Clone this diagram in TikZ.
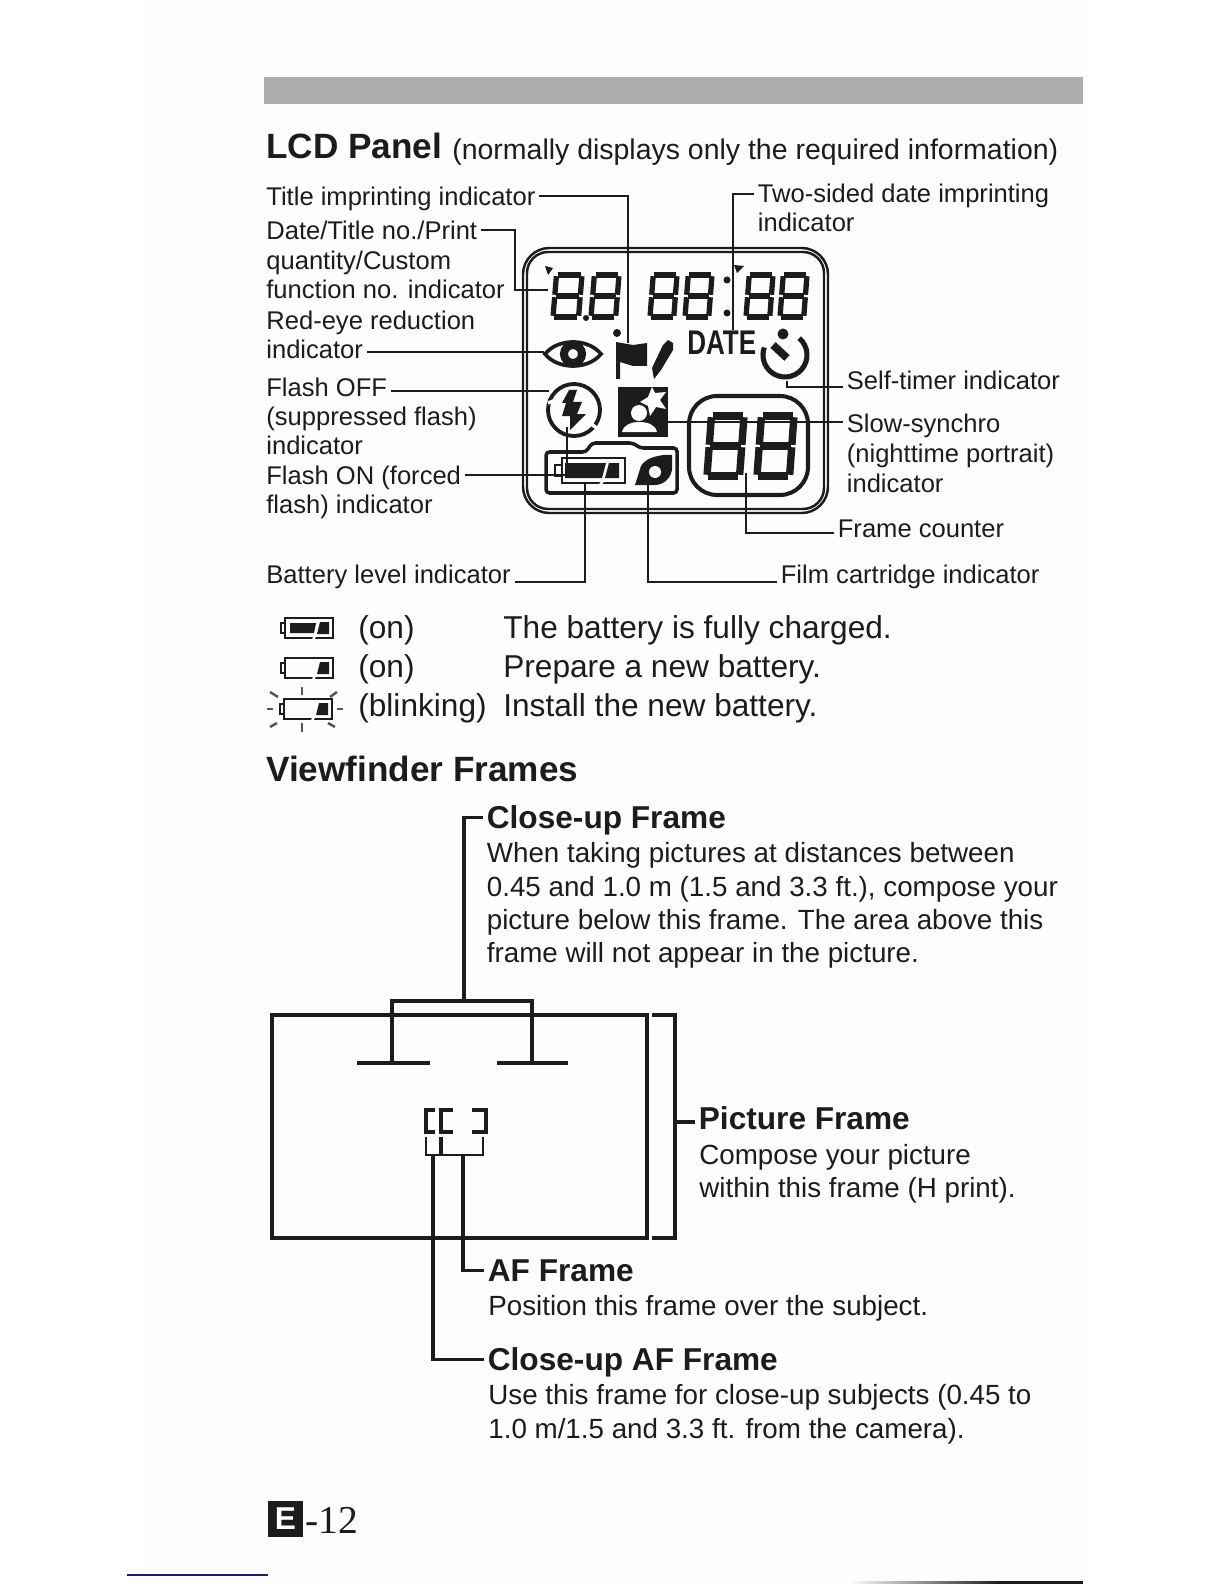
\documentclass[tikz,border=0pt]{standalone}
\usepackage{fontspec}
\setmainfont{Liberation Sans}
\newfontfamily\pagefont{Liberation Serif}
\usepackage{xcolor}
\definecolor{cInk}{HTML}{1C1C1C}
\definecolor{cBar}{HTML}{AEAEAE}
\definecolor{cPage}{HTML}{FDFDFD}
\definecolor{cRule}{HTML}{1A1A8C}
\usetikzlibrary{positioning,calc}
\tikzset{
  lbl/.style={anchor=base west,yshift=-0.5pt,inner xsep=2pt,inner ysep=0pt,text height=14pt,text depth=2.6pt,
    text=cInk,font=\fontsize{14.55}{16}\selectfont},
  txt/.style={anchor=base west,inner sep=0pt,text=cInk,font=\fontsize{15.8}{18}\selectfont},
  tbl/.style={anchor=base west,inner sep=0pt,text=cInk,font=\fontsize{18}{20}\selectfont},
  head/.style={anchor=base west,inner sep=0pt,text=cInk,font=\fontsize{20}{24}\selectfont\bfseries},
  lead/.style={anchor=base west,inner xsep=2pt,inner ysep=0pt,text height=12pt,text depth=0pt,
    text=cInk,font=\fontsize{18}{20}\selectfont\bfseries},
  leader/.style={draw=cInk,line width=1.2pt},
  frame-line/.style={draw=cInk,line width=1.75pt},
  lcd-line/.style={draw=cInk,line width=1.4pt},
  seg/.style={cInk,shorten >=0.7pt,shorten <=0.7pt},
}
% one seven segment digit: line width, left, top, width, height
\newcommand{\lcdeight}[5][3pt]{%
  \begin{scope}[seg,line width=#1]
    \draw (#2+0.12*#4,#3) -- (#2+#4,#3);
    \draw (#2+0.06*#4,#3+0.5*#5) -- (#2+0.94*#4,#3+0.5*#5);
    \draw (#2,#3+#5) -- (#2+0.88*#4,#3+#5);
    \draw (#2+0.12*#4,#3) -- (#2+0.06*#4,#3+0.5*#5);
    \draw (#2+0.06*#4,#3+0.5*#5) -- (#2,#3+#5);
    \draw (#2+#4,#3) -- (#2+0.94*#4,#3+0.5*#5);
    \draw (#2+0.94*#4,#3+0.5*#5) -- (#2+0.88*#4,#3+#5);
  \end{scope}
}
\newcommand{\battery}[3]{%
  \draw[cInk,line width=1.7pt] (#1,#2) rectangle (#1+48,#2+20);
  \draw[cInk,line width=1.5pt,fill=white] (#1-4,#2+5) rectangle (#1,#2+15);
  \fill[cInk] (#1+32,#2+16) -- (#1+35,#2+4) -- (#1+44,#2+4) -- (#1+44,#2+16) -- cycle;
  \ifnum#3=1 \fill[cInk] (#1+5,#2+5) -- (#1+31,#2+5) -- (#1+29,#2+15) -- (#1+5,#2+15) -- cycle;\fi
  \draw[white,line width=1.3pt] (#1+28,#2+21.5) -- (#1+30,#2+18);
}
\begin{document}
\begin{tikzpicture}[x=0.02cm,y=-0.02cm]
  \useasboundingbox (0,0) rectangle (1224,1584);
  \fill[white] (0,0) rectangle (1224,1584);
  \fill[cPage] (142,0) rectangle (1083,1584);
  \fill[cBar] (264,77) rectangle (1083,104);

  % LCD panel heading
  \node[head] (hLcd) at (266,159) {LCD Panel};
  \node[tbl,font=\fontsize{16.2}{20}\selectfont] (hLcdNote) at (452,160) {(normally displays only the required information)};

  % left labels
  \node[lbl] (lblTitle) at (262.5,205) {Title imprinting indicator};
  \node[lbl] (lblDate) at (262.5,239) {Date/Title no./Print};
  \node[lbl] (lblDateB) at (262.5,269) {quantity/Custom};
  \node[lbl] (lblDateC) at (262.5,298) {function no. indicator};
  \node[lbl] (lblRed) at (262.5,329) {Red-eye reduction};
  \node[lbl] (lblRedB) at (262.5,358) {indicator};
  \node[lbl] (lblOff) at (262.5,396) {Flash OFF};
  \node[lbl] (lblOffB) at (262.5,425) {(suppressed flash)};
  \node[lbl] (lblOffC) at (262.5,454) {indicator};
  \node[lbl] (lblOn) at (262.5,484) {Flash ON (forced};
  \node[lbl] (lblOnB) at (262.5,513) {flash) indicator};
  \node[lbl] (lblBat) at (262.5,583) {Battery level indicator};
  % right labels
  \node[lbl] (lblTwo) at (754,202) {Two-sided date imprinting};
  \node[lbl] (lblTwoB) at (754,231) {indicator};
  \node[lbl] (lblSelf) at (843,389) {Self-timer indicator};
  \node[lbl] (lblSlow) at (843,432) {Slow-synchro};
  \node[lbl] (lblSlowB) at (843,462) {(nighttime portrait)};
  \node[lbl] (lblSlowC) at (843,492) {indicator};
  \node[lbl] (lblFrame) at (834,537) {Frame counter};
  \node[lbl] (lblFilm) at (777,583) {Film cartridge indicator};

  % panel
  \draw[lcd-line,rounded corners=15] (523,248) rectangle (828,513);
  \draw[lcd-line,rounded corners=12] (527,252) rectangle (824,509);
  \lcdeight{553}{275}{29}{42}
  \lcdeight{591}{275}{28}{42}
  \lcdeight{650}{275}{27}{42}
  \lcdeight{685}{275}{27}{42}
  \lcdeight{746}{275}{27}{42}
  \lcdeight{780}{275}{27}{42}
  \fill[cInk] (545,266) -- (553,268) -- (548,275) -- cycle;
  \fill[cInk] (734,265) -- (744,266) -- (737,273) -- cycle;
  \fill[cInk] (586,318) circle (3);
  \fill[cInk] (727,280) circle (3.5) (727,313) circle (3.5);
  % eye
  \draw[cInk,line width=2.1pt] (545,354) .. controls (558,338) and (588,338) .. (601,354)
    .. controls (588,370) and (558,370) .. (545,354) -- cycle;
  \draw[cInk,line width=4.6pt] (573,354) circle (9);
  % flag and pencil
  \fill[cInk] (617,333) circle (4);
  \fill[cInk] (616,342) -- (633,345) -- (647,343) -- (647,366) -- (633,366) -- (620,362) -- (620,379) -- (616,379) -- cycle;
  \fill[cInk] (654,379) -- (652,368) -- (663,345) -- (668,340) -- (673,343) -- (673,350) -- (661,370) -- cycle;
  \node[anchor=base west,inner sep=0pt,text=cInk,xscale=0.76,font=\fontsize{19.5}{20}\selectfont\bfseries] (lcdDate) at (687,355) {DATE};
  % self timer
  \draw[cInk,line width=2.9pt] (785,355) ++(-50:22) arc[start angle=-50,end angle=200,radius=22];
  \fill[cInk] (783,334) circle (5.5);
  \draw[cInk,line width=4.4pt] (773,345) -- (787,358);
  % flash
  \draw[cInk,line width=2.2pt] (574,410) circle (26);
  \fill[cInk] (569,390) -- (577,390) -- (573,402) -- (582,402) -- (577,414) -- (586,414) -- (570,430) -- (570,416) -- (562,416) -- (566,403) -- (562,403) -- cycle;
  \draw[white,line width=2pt] (548,403) -- (559,399);
  \draw[white,line width=2pt] (586,421) -- (597,428);
  % slow sync
  \fill[cInk] (618,387) rectangle (668,437);
  \fill[white] (652,387) -- (655,393) -- (666,392) -- (660,400) -- (666,409) -- (656,407) -- (650,416) -- (648,406) -- (640,402) -- (648,397) -- cycle;
  \fill[white] (639,413) circle (8);
  \fill[white] (622,432) .. controls (624,424) and (632,422) .. (639,422) .. controls (647,422) and (655,424) .. (657,432) -- cycle;
  % camera back
  \draw[cInk,line width=2pt,rounded corners=2] (546,452) -- (586,452) -- (592,443) -- (633,443) -- (640,448) -- (677,448) -- (677,493) -- (546,493) -- cycle;
  % battery
  \draw[cInk,line width=1.6pt] (562,458) rectangle (625,483);
  \draw[cInk,line width=1.2pt] (555,465) rectangle (562,476);
  \fill[cInk] (565,463) -- (606,463) -- (602,478) -- (565,478) -- cycle;
  \fill[cInk] (609,463) -- (619,463) -- (619,478) -- (605,478) -- cycle;
  \draw[white,line width=1.4pt] (600,485) -- (603,481);
  % film
  \fill[cInk] (635,485) -- (641,466) .. controls (645,458) and (660,454) .. (672,455) -- (672,470) .. controls (670,480) and (662,485) .. (655,485) -- cycle;
  \fill[white] (655,472) circle (6);
  % counter
  \draw[cInk,line width=2.3pt,rounded corners=16] (689,396) rectangle (808,495);
  \lcdeight[4.2pt]{707}{416}{37}{60}
  \lcdeight[4.2pt]{757}{416}{37}{60}

  \coordinate (cFlag) at (628,343);
  \coordinate (cDateV) at (515,290);
  \coordinate (cDateDig) at (548,290);
  \coordinate (cEye) at (544,352);
  \coordinate (cFlashOff) at (549,391);
  \coordinate (cFlashOn) at (567,427);
  \coordinate (cBatTop) at (585,484);
  \coordinate (cFilm) at (648,485);
  \coordinate (cCount) at (746,473);
  \coordinate (cTimer) at (787,381);
  \coordinate (cSlow) at (668,422);
  \coordinate (cTwo) at (733,330);
  \draw[leader] (lblTitle.east) -| (cFlag);
  \draw[leader] (lblDate.east) -| (cDateV) -- (cDateDig);
  \draw[leader] (lblRedB.east |- cEye) -- (cEye);
  \draw[leader] (lblOff.east |- cFlashOff) -- (cFlashOff);
  \draw[leader] (lblOn.east) -| (cFlashOn);
  \draw[leader] ([yshift=-4.4pt]lblBat.east) -| (cBatTop);
  \draw[leader] ([yshift=-4.4pt]lblFilm.west) -| (cFilm);
  \draw[leader] ([yshift=-2.9pt]lblFrame.west) -| (cCount);
  \draw[leader] ([yshift=-4pt]lblSelf.west) -| (cTimer);
  \draw[leader] (lblSlow.west |- cSlow) -- (cSlow);
  \draw[leader] ([yshift=-0.5pt]lblTwo.west) -| (cTwo);

  % battery table
  \battery{285}{618}{1}
  \battery{285}{658}{0}
  \battery{284}{699}{0}
  \foreach \a/\b/\c/\d in {267/709/273/709, 337/709/343/709, 302/687/302/695, 302/723/302/732, 270/692/278/697, 337/692/330/697, 270/727/277/723, 335/727/328/723}
    \draw[cInk!75,line width=1.4pt] (\a,\b) -- (\c,\d);
  \node[tbl] (tOnA) at (358,638) {(on)};
  \node[tbl] (tOnB) at (358,677) {(on)};
  \node[tbl] (tBlink) at (358,716) {(blinking)};
  \node[tbl] (tFull) at (503,638) {The battery is fully charged.};
  \node[tbl] (tNew) at (503,677) {Prepare a new battery.};
  \node[tbl] (tInstall) at (503,716) {Install the new battery.};

  % viewfinder
  \node[head] (hView) at (266,781) {Viewfinder Frames};
  \node[lead] (lCloseUp) at (483,828) {Close-up Frame};
  \node[txt] (bCloseA) at (486.5,862) {When taking pictures at distances between};
  \node[txt] (bCloseB) at (486.5,896) {0.45 and 1.0 m (1.5 and 3.3 ft.), compose your};
  \node[txt] (bCloseC) at (486.5,929) {picture below this frame. The area above this};
  \node[txt] (bCloseD) at (486.5,962) {frame will not appear in the picture.};
  \node[lead] (lPict) at (695,1129) {Picture Frame};
  \node[txt] (bPictA) at (699,1164) {Compose your picture};
  \node[txt] (bPictB) at (699,1197) {within this frame (H print).};
  \node[lead] (lAf) at (484,1281) {AF Frame};
  \node[txt] (bAf) at (488,1315) {Position this frame over the subject.};
  \node[lead] (lCaf) at (484,1370) {Close-up AF Frame};
  \node[txt] (bCafA) at (488,1404) {Use this frame for close-up subjects (0.45 to};
  \node[txt] (bCafB) at (488,1438) {1.0 m/1.5 and 3.3 ft. from the camera).};

  \draw[frame-line] (272,1015) rectangle (647,1238);
  \draw[frame-line] (357,1063) -- (430,1063);
  \draw[frame-line] (497,1063) -- (568,1063);
  \draw[frame-line] (392,1063) -- (392,1001) -- (532,1001) -- (532,1063);
  \coordinate (cStem) at (464,1001);
  \draw[frame-line] (lCloseUp.west) -| (cStem);
  \draw[frame-line] (652,1015) -- (675,1015) -- (675,1238) -- (652,1238);
  \coordinate (cPict) at (675,1122);
  \draw[frame-line] (cPict) -- (cPict -| lPict.west);
  \draw[frame-line] (435,1110) -- (426,1110) -- (426,1132) -- (435,1132);
  \draw[frame-line] (453,1110) -- (441,1110) -- (441,1132) -- (453,1132);
  \draw[frame-line] (472,1110) -- (486,1110) -- (486,1132) -- (472,1132);
  \draw[frame-line,line width=1.6pt] (426,1137) -- (426,1155) -- (440,1155) -- (440,1137);
  \draw[frame-line,line width=1.6pt] (442,1137) -- (442,1155) -- (483,1155) -- (483,1137);
  \coordinate (cAf) at (463,1155);
  \coordinate (cCaf) at (433,1155);
  \draw[frame-line] (lAf.west) -| (cAf);
  \draw[frame-line] (lCaf.west) -| (cCaf);

  % page number
  \node[fill=cInk,text=white,inner sep=0pt,minimum size=0.71cm,font=\fontsize{18}{20}\selectfont\bfseries] (pageE) at (285.5,1519) {E};
  \node[anchor=base west,inner sep=0pt,text=cInk,font=\fontsize{22.5}{24}\pagefont\selectfont] (pageNo) at (305,1533) {-12};
  \fill[cRule] (127,1574) rectangle (268,1576);
  \shade[left color=cPage,right color=cInk] (850,1581) rectangle (1000,1584);
  \fill[cInk] (1000,1581) rectangle (1083,1584);
\end{tikzpicture}
\end{document}
